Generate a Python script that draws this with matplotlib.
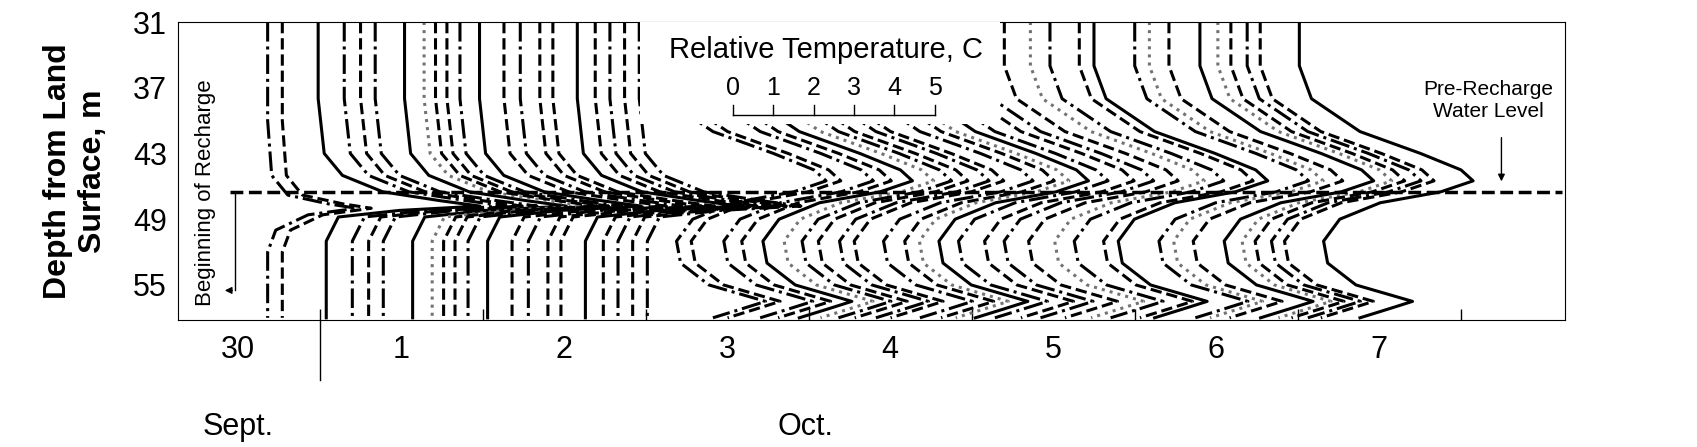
import matplotlib
matplotlib.use("Agg")
import matplotlib.pyplot as plt
import numpy as np

plt.rcParams['font.family'] = ['Liberation Sans', 'DejaVu Sans']

# profile templates: depth (m) and relative temperature offset (C)
early_depth = [31, 40, 45, 46.8, 47.6, 48.0, 48.6, 50, 52, 58]
early_temp  = [0, 0, 0.1, 0.5, 1.5, 2.2, 1.0, 0.2, 0, 0]
mid_depth = [31, 38, 43, 45, 46.5, 47.3, 47.8, 48.2, 48.8, 51, 58]
mid_temp  = [0, 0, 0.15, 0.6, 1.6, 3.0, 4.0, 2.0, 0.5, 0.2, 0.2]
late_depth = [31, 35, 38, 41, 43, 44.5, 45.5, 46.5, 47.5, 49, 51, 53, 55, 56.5, 57.2, 58]
late_temp  = [0, 0, 0.3, 1.5, 3.0, 4.0, 4.3, 3.5, 2.0, 1.0, 0.6, 0.7, 1.4, 2.8, 2.2, 1.5]

# start times (days after 1 Oct 00:00) and line styles
early_t = [-0.32, -0.23]
early_s = ['-.', '--']
mid_t = [-0.01, 0.15, 0.25, 0.34, 0.52, 0.64, 0.71, 0.78, 0.86, 0.98, 1.13, 1.23, 1.35,
         1.43, 1.58, 1.69, 1.78, 1.87, 1.96]
mid_s = ['-', '-.', '--', '-.', '-', ':', '--', '--', '-.', '-', '--', '-.', '--',
         '--', '-', '--', '-.', '--', '-.']
late_t = [2.04, 2.13, 2.33, 2.44, 2.57, 2.70, 2.81, 2.91, 3.04, 3.13, 3.31, 3.44, 3.53,
          3.65, 3.77, 3.93, 4.05, 4.20, 4.36, 4.48, 4.66, 4.75, 5.00, 5.09, 5.21, 5.40,
          5.51, 5.59, 5.69, 5.77, 6.01]
late_s = ['-.', '--', '-.', '--', '-', ':', '-.', '--', '-.', '--', '-.', '--', ':',
          '-', '-.', '--', '-.', '--', ':', '-.', '--', '-', '-.', ':', '--', '-',
          ':', '--', '-.', '--', '-']

water_level = 46.5
day_labels = ['30', '1', '2', '3', '4', '5', '6', '7']
scale_ticks = [0, 1, 2, 3, 4, 5]
C2DAY = 0.248

fig = plt.figure(figsize=(16.97, 4.47), dpi=100)
ax = fig.add_axes([178/1697, 1-320/447, (1565-178)/1697, (320-22)/447])

def draw(depths, temps, starts, styles):
    for t0, ls in zip(starts, styles):
        x = t0 + np.array(temps) * C2DAY
        col = '0.45' if ls == ':' else 'black'
        ax.plot(x, depths, ls=ls, color=col, lw=2.2, zorder=2)

draw(early_depth, early_temp, early_t, early_s)
draw(mid_depth, mid_temp, mid_t, mid_s)
draw(late_depth, late_temp, late_t, late_s)

ax.plot([-0.55, 7.62], [water_level, water_level], ls='--', color='black', lw=2.5, zorder=3)

ax.set_xlim(-0.87, 7.64)
ax.set_ylim(58.2, 31)
ax.set_yticks([31, 37, 43, 49, 55])
ax.tick_params(axis='y', length=0, labelsize=22, pad=8)
ax.set_xticks(np.arange(0, 8))
ax.set_xticklabels([])
ax.tick_params(axis='x', direction='in', length=8, width=1)
for i, lab in enumerate(day_labels):
    ax.text(i - 0.5, -0.1, lab, transform=ax.get_xaxis_transform(), ha='center', va='center', fontsize=22)
ax.text(-0.5, -0.36, 'Sept.', transform=ax.get_xaxis_transform(), ha='center', va='center', fontsize=22)
ax.text(2.98, -0.36, 'Oct.', transform=ax.get_xaxis_transform(), ha='center', va='center', fontsize=22)
ax.plot([0, 0], [0, -0.2], transform=ax.get_xaxis_transform(), color='black', lw=1, clip_on=False)

ax.set_ylabel('Depth from Land\nSurface, m', fontsize=23, fontweight='bold', labelpad=18)

# temperature scale bar on white background
x0 = (733 - 320) / 163
ybar = 39.5
ax.fill_between([(640 - 320) / 163, (1000 - 320) / 163], 31, 40.3, color='white', zorder=4, lw=0)
ax.plot([x0, x0 + 5 * C2DAY], [ybar, ybar], color='black', lw=1, zorder=5)
for v in scale_ticks:
    xv = x0 + v * C2DAY
    ax.plot([xv, xv], [ybar, ybar - 0.9], color='black', lw=1, zorder=5)
    ax.text(xv, ybar - 2.5, str(v), ha='center', va='center', fontsize=18, zorder=5)
ax.text(x0 + 2.3 * C2DAY, 33.6, 'Relative Temperature, C', ha='center', va='center', fontsize=21, zorder=5)

ax.text(7.17, 38.2, 'Pre-Recharge\nWater Level', ha='center', va='center', fontsize=15,
        bbox=dict(facecolor='white', edgecolor='none', pad=1), zorder=5)
ax.annotate('', xy=(7.25, 45.8), xytext=(7.25, 41.3),
            arrowprops=dict(arrowstyle='-|>', color='black', lw=1))

ax.text(-0.70, 46.6, 'Beginning of Recharge', rotation=90, ha='center', va='center', fontsize=16)
ax.plot([-0.52, -0.52], [water_level, 55.5], color='black', lw=1)
ax.annotate('', xy=(-0.60, 55.5), xytext=(-0.52, 55.5),
            arrowprops=dict(arrowstyle='-|>', color='black', lw=1))

fig.savefig('out.png', dpi=100)
